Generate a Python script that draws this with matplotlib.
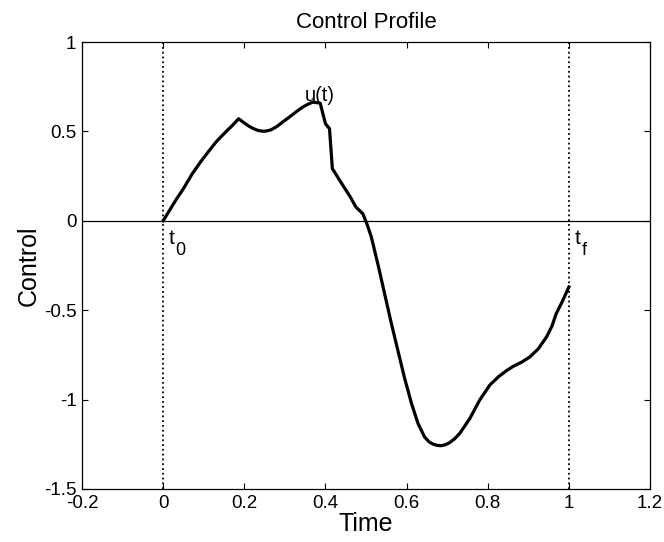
import matplotlib
matplotlib.use("Agg")
import matplotlib.pyplot as plt

plt.rcParams['font.family'] = ['Liberation Sans', 'DejaVu Sans']
plt.rcParams['mathtext.default'] = 'regular'

# control profile
time = [0.0, 0.031, 0.05, 0.072, 0.093, 0.114, 0.13, 0.146, 0.16, 0.171,
        0.186, 0.197, 0.208, 0.22, 0.233, 0.245, 0.254, 0.265, 0.28, 0.295,
        0.311, 0.328, 0.344, 0.357, 0.369, 0.387, 0.4, 0.41, 0.417, 0.43,
        0.443, 0.46, 0.475, 0.492, 0.502, 0.513, 0.53, 0.546, 0.562, 0.579,
        0.595, 0.612, 0.628, 0.644, 0.655, 0.665, 0.675, 0.685, 0.695, 0.706,
        0.718, 0.731, 0.756, 0.78, 0.805, 0.826, 0.845, 0.862, 0.884, 0.904,
        0.925, 0.945, 0.958, 0.969, 0.984, 1.0]
control = [0.0, 0.115, 0.18, 0.264, 0.332, 0.394, 0.44, 0.478, 0.51, 0.534,
           0.571, 0.552, 0.534, 0.518, 0.506, 0.501, 0.502, 0.508, 0.527, 0.553,
           0.58, 0.61, 0.636, 0.652, 0.664, 0.658, 0.543, 0.515, 0.292, 0.245,
           0.198, 0.138, 0.077, 0.04, -0.016, -0.09, -0.25, -0.41, -0.57, -0.73,
           -0.88, -1.021, -1.133, -1.208, -1.236, -1.249, -1.256, -1.258, -1.253, -1.241,
           -1.22, -1.189, -1.105, -1.003, -0.919, -0.873, -0.84, -0.815, -0.79, -0.761,
           -0.715, -0.649, -0.59, -0.518, -0.45, -0.37]

t0 = 0.0
tf = 1.0

xticks = [-0.2, 0, 0.2, 0.4, 0.6, 0.8, 1.0, 1.2]
xtick_labels = ['-0.2', '0', '0.2', '0.4', '0.6', '0.8', '1', '1.2']
yticks = [-1.5, -1, -0.5, 0, 0.5, 1]
ytick_labels = ['-1.5', '-1', '-0.5', '0', '0.5', '1']

fig = plt.figure(figsize=(6.64, 5.42), dpi=100)
ax = fig.add_axes([0.1235, 0.0978, 0.8555, 0.8247])

ax.axhline(0, color='black', lw=0.9)
ax.axvline(t0, color='black', ls=':', lw=1.3)
ax.axvline(tf, color='black', ls=':', lw=1.3)
ax.plot(time, control, color='black', lw=2.3)

ax.text(0.35, 0.67, 'u(t)', fontsize=14.5, ha='left', va='baseline')

# MATLAB-style big subscripts: letter and index as two texts
for x, sub in [(t0, '0'), (tf, 'f')]:
    ax.annotate('t', (x, 0), xytext=(4, -6), textcoords='offset points',
                fontsize=15, ha='left', va='top')
    ax.annotate(sub, (x, 0), xytext=(9, -15), textcoords='offset points',
                fontsize=13, ha='left', va='top')

ax.set_xlim(-0.2, 1.2)
ax.set_ylim(-1.5, 1)
ax.set_xticks(xticks, xtick_labels)
ax.set_yticks(yticks, ytick_labels)
ax.tick_params(direction='in', top=True, right=True, length=4, width=0.8,
               labelsize=13.5, pad=4)
for s in ax.spines.values():
    s.set_linewidth(0.9)

ax.set_title('Control Profile', fontsize=16, pad=10)
ax.set_xlabel('Time', fontsize=18, labelpad=0)
ax.set_ylabel('Control', fontsize=18, labelpad=2)

plt.savefig("out.png", dpi=100)
